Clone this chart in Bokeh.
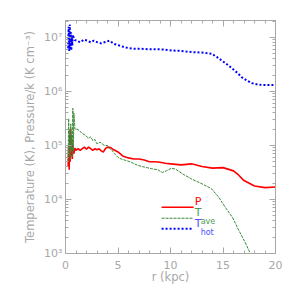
from bokeh.plotting import figure
from bokeh.models import (Range1d, LinearAxis, LogAxis, Label, CustomJSTickFormatter,
                          SingleIntervalTicker, LogTicker)
from bokeh.embed import file_html
from bokeh.resources import INLINE

# ---- data (r in kpc, values as log10) ----
r_p = [0.25, 0.3, 0.35, 0.4, 0.45, 0.5, 0.55, 0.6, 0.65, 0.7, 0.8, 0.9, 1.0, 1.2, 1.4,
       1.6, 1.8, 2.0, 2.2, 2.4, 2.6, 2.8, 3.0, 3.2, 3.4, 3.6, 3.8, 4.0, 4.3, 4.6, 5.0,
       5.5, 6.0, 6.5, 7.0, 7.5, 8.0, 8.5, 9.0, 9.5, 10.0, 11.0, 12.0, 13.0, 14.0, 15.0,
       16.0, 16.5, 17.0, 18.0, 19.0, 20.0]
logP = [4.6, 5.0, 4.55, 5.2, 4.7, 5.31, 4.8, 5.1, 4.75, 5.0, 4.85, 4.95, 4.91, 4.94, 4.91,
        4.94, 4.97, 4.93, 4.97, 4.94, 4.91, 4.94, 4.92, 4.94, 4.90, 4.88, 4.94, 4.97, 4.96, 4.92, 4.88,
        4.80, 4.77, 4.75, 4.75, 4.73, 4.70, 4.70, 4.69, 4.67, 4.66, 4.64, 4.66, 4.61, 4.58, 4.59,
        4.53, 4.45, 4.35, 4.25, 4.22, 4.23]

r_ave = [0.25, 0.3, 0.35, 0.4, 0.45, 0.5, 0.55, 0.6, 0.65, 0.7, 0.75, 0.8, 0.9, 1.0, 1.3,
         1.6, 1.9, 2.2, 2.4, 2.6, 2.8, 3.0, 3.3, 3.7, 4.0, 4.2, 4.4, 4.65, 5.0, 5.3, 5.8,
         6.25, 6.9, 7.5, 8.2, 8.8, 9.2, 9.6, 10.1, 10.5, 11.1, 12.0, 13.0, 13.9, 14.6, 15.2,
         15.9, 16.5, 17.1, 17.6, 18.0]
logTave = [4.7, 5.5, 4.8, 5.3, 4.75, 5.4, 4.9, 5.2, 4.8, 5.69, 4.9, 5.6, 5.3, 5.31, 5.28,
           5.22, 5.19, 5.13, 5.16, 5.09, 5.11, 5.03, 5.06, 5.0, 5.0, 4.94, 4.92, 4.85, 4.78, 4.75, 4.72,
           4.69, 4.63, 4.60, 4.57, 4.55, 4.50, 4.53, 4.58, 4.56, 4.48, 4.38, 4.29, 4.20, 4.04, 3.86,
           3.67, 3.43, 3.21, 3.0, 2.85]

r_hot = [0.25, 0.3, 0.35, 0.4, 0.45, 0.5, 0.55, 0.6, 0.65, 0.7, 0.8, 0.9, 1.1, 1.4, 1.76,
         2.08, 2.4, 2.7, 3.05, 3.4, 3.7, 4.17, 4.65, 5.13, 5.6, 6.1, 6.5, 7.2, 8.2, 9.1, 10.1,
         11.0, 12.0, 13.0, 13.9, 14.4, 14.9, 15.4, 15.9, 16.4, 16.8, 17.3, 17.8, 18.3, 18.75,
         19.5, 20.0]
logThot = [6.8, 7.2, 6.75, 7.24, 6.8, 7.1, 6.76, 7.0, 6.85, 7.05, 6.98, 6.95, 6.94, 6.91, 6.96,
           6.94, 6.91, 6.94, 6.91, 6.89, 6.91, 6.94, 6.88, 6.85, 6.82, 6.80, 6.79, 6.79, 6.78, 6.78, 6.76,
           6.75, 6.73, 6.72, 6.70, 6.64, 6.57, 6.50, 6.42, 6.34, 6.26, 6.20, 6.15, 6.13, 6.12,
           6.12, 6.12]

P = [10 ** v for v in logP]
Tave = [10 ** v for v in logTave]
Thot = [10 ** v for v in logThot]

GRAY = "#a8a8a8"
RED = "#ff0000"
GREEN = "#3a8a3a"
BLUE = "#0000ff"
FONT = "DejaVu Sans"

p = figure(width=287, height=287, output_backend="svg", toolbar_location=None,
           y_axis_type="log", x_range=Range1d(0, 20), y_range=Range1d(1e3, 2.06e7),
           min_border_left=65, min_border_right=12, min_border_top=20, min_border_bottom=34)
p.background_fill_color = "white"
p.border_fill_color = "white"
p.outline_line_color = GRAY
p.xgrid.visible = False
p.ygrid.visible = False

p.line(r_p, P, line_color=RED, line_width=1.6)
p.line(r_ave, Tave, line_color=GREEN, line_width=1, line_dash="3 1")
p.line(r_hot, Thot, line_color=BLUE, line_width=2, line_dash="2 2")

sup_fmt = CustomJSTickFormatter(code="""
const sup = {"0":"\u2070","1":"\u00b9","2":"\u00b2","3":"\u00b3","4":"\u2074","5":"\u2075",
             "6":"\u2076","7":"\u2077","8":"\u2078","9":"\u2079","-":"\u207b"};
const e = Math.round(Math.log10(tick));
return "10" + String(e).split("").map(c => sup[c]).join("");
""")
blank_fmt = CustomJSTickFormatter(code="return '';")

def style(ax):
    ax.axis_line_color = GRAY
    ax.major_tick_line_color = GRAY
    ax.minor_tick_line_color = GRAY
    ax.major_tick_in = 6
    ax.major_tick_out = 0
    ax.minor_tick_in = 3
    ax.minor_tick_out = 0
    ax.major_label_text_color = GRAY
    ax.major_label_text_font = FONT
    ax.major_label_text_font_size = "11px"
    ax.axis_label_text_color = GRAY
    ax.axis_label_text_font = FONT
    ax.axis_label_text_font_style = "normal"
    ax.axis_label_text_font_size = "11.5px"

p.xaxis.ticker = SingleIntervalTicker(interval=5, num_minor_ticks=5)
p.xaxis.axis_label = "r (kpc)"
p.xaxis.major_label_standoff = 7
p.xaxis.axis_label_standoff = -2
style(p.xaxis[0])

p.yaxis.ticker = LogTicker(num_minor_ticks=10)
p.yaxis.formatter = sup_fmt
p.yaxis.axis_label = "Temperature (K), Pressure/k (K cm\u207b\u00b3)"
p.yaxis.axis_label_standoff = 4
p.yaxis.major_label_standoff = 3
style(p.yaxis[0])

top = LinearAxis(ticker=SingleIntervalTicker(interval=5, num_minor_ticks=5), formatter=blank_fmt,
                 major_label_standoff=0)
style(top)
p.add_layout(top, "above")
right = LogAxis(ticker=LogTicker(num_minor_ticks=10), formatter=blank_fmt, major_label_standoff=0)
style(right)
p.add_layout(right, "right")

# ---- legend (drawn by hand) ----
leg_x0, leg_x1, leg_tx = 9.15, 12.2, 12.3
leg_y = [7.2e3, 4.5e3, 2.86e3]
p.line([leg_x0, leg_x1], [leg_y[0], leg_y[0]], line_color=RED, line_width=1.6)
p.line([leg_x0, leg_x1], [leg_y[1], leg_y[1]], line_color=GREEN, line_width=1, line_dash="3 1")
p.line([leg_x0, leg_x1], [leg_y[2], leg_y[2]], line_color=BLUE, line_width=2, line_dash="2 2")

p.add_layout(Label(x=leg_tx, y=leg_y[0], text="P", text_color=RED, text_font=FONT,
                   text_font_size="11px", text_baseline="bottom", y_offset=-1))
p.add_layout(Label(x=leg_tx, y=leg_y[1], text="T", text_color="#4f9a4f", text_font=FONT,
                   text_font_size="11px", text_baseline="bottom", y_offset=-1))
p.add_layout(Label(x=leg_tx, y=leg_y[1], text="ave", text_color="#4f9a4f", text_font=FONT,
                   text_font_size="8px", text_baseline="top", x_offset=6, y_offset=1))
p.add_layout(Label(x=leg_tx, y=leg_y[2], text="T", text_color="#5050ff", text_font=FONT,
                   text_font_size="11px", text_baseline="bottom", y_offset=-1))
p.add_layout(Label(x=leg_tx, y=leg_y[2], text="hot", text_color="#5050ff", text_font=FONT,
                   text_font_size="8px", text_baseline="top", x_offset=6, y_offset=1))

open("out.html", "w").write(file_html(p, INLINE))
